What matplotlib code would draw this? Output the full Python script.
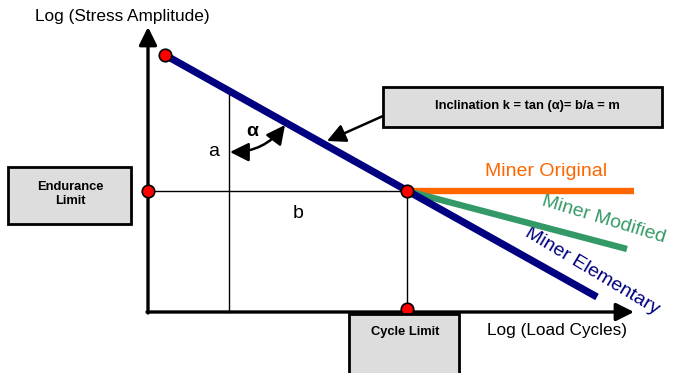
import matplotlib
matplotlib.use("Agg")
import matplotlib.pyplot as plt
from matplotlib.patches import FancyArrowPatch, Rectangle

plt.rcParams['font.family'] = ['Liberation Sans', 'DejaVu Sans']

# Diagram geometry (canvas units, y grows downward)
origin = (148, 312)
y_axis_top = 27
x_axis_right = 634

elementary_line = [(165, 55), (597, 297)]
original_line = [(407, 191), (634, 191)]
modified_line = [(407, 191), (627, 249)]

red_points_x = [165, 148, 407, 407]
red_points_y = [55, 191, 191, 309]

endurance_y = 191
cycle_x = 407
triangle_x = 229

series_labels = ["Miner Original", "Miner Modified", "Miner Elementary"]
series_colors = ["#FF6600", "#339966", "#000080"]

fig = plt.figure(figsize=(6.83, 3.73), dpi=100)
ax = fig.add_axes([0, 0, 1, 1])
ax.set_xlim(0, 683)
ax.set_ylim(373, 0)
ax.axis('off')

# thin construction lines
ax.plot([origin[0], cycle_x], [endurance_y, endurance_y], color='black', lw=1.0, zorder=2)
ax.plot([cycle_x, cycle_x], [endurance_y, origin[1]], color='black', lw=1.0, zorder=2)
ax.plot([triangle_x, triangle_x], [93, origin[1]], color='black', lw=1.0, zorder=2)

# axes with arrow heads
axis_arrow = dict(arrowstyle='-|>,head_length=9,head_width=4.5', mutation_scale=1.2,
                  color='black', lw=2.4, zorder=3, shrinkA=0, shrinkB=0)
ax.add_patch(FancyArrowPatch((origin[0], origin[1] + 1), (origin[0], y_axis_top), **axis_arrow))
ax.add_patch(FancyArrowPatch((origin[0] - 1, origin[1]), (x_axis_right, origin[1]), **axis_arrow))

# Miner curves
ax.plot(*zip(*original_line), color=series_colors[0], lw=4.6, solid_capstyle='butt', zorder=4)
ax.plot(*zip(*modified_line), color=series_colors[1], lw=4.6, solid_capstyle='butt', zorder=4)
ax.plot(*zip(*elementary_line), color=series_colors[2], lw=5.2, solid_capstyle='butt', zorder=5)

ax.plot(red_points_x, red_points_y, 'o', ms=9, mfc='#FF0000', mec='black', mew=1.2,
        zorder=6, linestyle='none')

# curve labels
ax.text(546, 171, series_labels[0], color=series_colors[0], fontsize=14,
        ha='center', va='center')
ax.text(604, 219, series_labels[1], color=series_colors[1], fontsize=14,
        ha='center', va='center', rotation=-17, rotation_mode='anchor')
ax.text(592, 271, series_labels[2], color=series_colors[2], fontsize=14,
        ha='center', va='center', rotation=-31, rotation_mode='anchor')

# axis titles
ax.text(122, 16, "Log (Stress Amplitude)", fontsize=12.4, ha='center', va='center')
ax.text(557, 330, "Log (Load Cycles)", fontsize=12.4, ha='center', va='center')

# grey boxes
box_style = dict(facecolor='#DDDDDD', edgecolor='black', lw=2.0, zorder=7)
ax.add_patch(Rectangle((8, 167), 123, 57, **box_style))
ax.text(70, 194, "Endurance\nLimit", fontsize=9.3, fontweight='bold', ha='center',
        va='center', multialignment='center', linespacing=1.3, zorder=8)

ax.add_patch(Rectangle((383, 87), 279, 40, **box_style))
ax.text(527, 106, "Inclination k = tan (\u03b1)= b/a = m", fontsize=9.3, fontweight='bold',
        ha='center', va='center', zorder=8)

ax.add_patch(Rectangle((349, 314), 110, 70, clip_on=True, **box_style))
ax.text(405, 332, "Cycle Limit", fontsize=9.3, fontweight='bold', ha='center',
        va='center', zorder=8)

# pointer from inclination box to the line
ax.add_patch(FancyArrowPatch((383, 116), (327, 141),
                             arrowstyle='-|>,head_length=7,head_width=3.5',
                             mutation_scale=1.6, color='black', lw=1.8, zorder=6,
                             shrinkA=0, shrinkB=0))

# angle arc
ax.add_patch(FancyArrowPatch((230, 152), (285, 125),
                             connectionstyle='arc3,rad=0.25',
                             arrowstyle='<|-|>,head_length=6,head_width=3',
                             mutation_scale=1.9, color='black', lw=1.8, zorder=6,
                             shrinkA=0, shrinkB=0))
ax.text(252, 131, "\u03b1", fontsize=14, fontweight='bold', ha='center', va='center')
ax.text(214, 152, "a", fontsize=14, ha='center', va='center')
ax.text(298, 214, "b", fontsize=14, ha='center', va='center')

fig.savefig("out.png", dpi=100)
